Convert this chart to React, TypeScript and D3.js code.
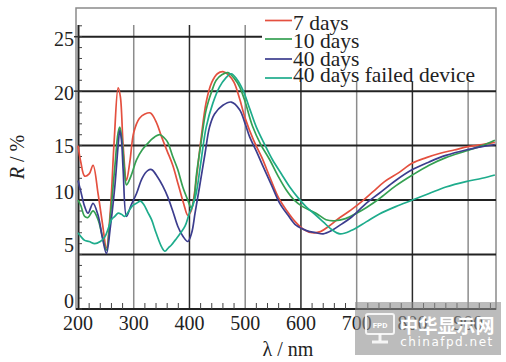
import React from 'react';
import * as d3 from 'd3';

// wavelength (nm) / reflectance (%)
const wl7 = [200, 205, 212, 220, 227, 236, 244, 251, 258, 265, 272, 276, 281, 287, 293, 300, 310, 320, 330, 340, 350, 360, 370, 380, 390, 397, 403, 410, 420, 430, 440, 450, 460, 470, 480, 490, 500, 515, 530, 545, 560, 575, 590, 605, 620, 635, 650, 670, 690, 710, 730, 750, 775, 800, 825, 850, 875, 900, 925, 948];
const r7 = [15.0, 13.5, 12.2, 12.4, 13.2, 10.6, 7.8, 5.6, 9.0, 15.5, 20.3, 19.5, 15.0, 11.8, 13.5, 16.2, 17.5, 17.9, 18.0, 17.2, 15.8, 14.5, 13.2, 11.4, 9.6, 8.6, 9.0, 11.0, 15.3, 19.0, 20.8, 21.6, 21.8, 21.5, 20.8, 19.3, 17.5, 15.5, 13.9, 12.0, 10.2, 9.0, 8.0, 7.3, 7.0, 7.1, 7.6, 8.4, 9.1, 9.9, 10.8, 11.7, 12.5, 13.4, 13.9, 14.3, 14.6, 14.9, 15.1, 15.3];

const wl10 = [200, 205, 212, 218, 227, 236, 244, 251, 258, 266, 272, 275, 279, 283, 287, 295, 305, 315, 325, 335, 347, 355, 361, 370, 379, 388, 397, 403, 408, 412, 420, 430, 440, 448, 458, 469, 480, 490, 500, 513, 528, 544, 559, 574, 588, 603, 627, 645, 660, 680, 700, 717, 740, 770, 800, 830, 860, 896, 925, 948];
const r10 = [10.0, 9.5, 8.5, 8.4, 9.0, 8.2, 6.6, 5.4, 8.5, 13.0, 16.2, 16.7, 15.5, 13.0, 11.4, 12.2, 13.7, 14.6, 15.2, 15.7, 16.0, 15.7, 15.3, 14.0, 12.8, 11.2, 10.0, 9.3, 10.0, 12.1, 15.0, 18.3, 20.0, 21.0, 21.5, 21.7, 21.2, 20.4, 19.0, 16.8, 15.1, 13.7, 12.2, 10.9, 10.0, 9.4, 8.8, 8.2, 8.1, 8.3, 8.8, 9.3, 10.1, 11.3, 12.3, 13.2, 13.9, 14.5, 15.0, 15.5];

const wl40 = [200, 205, 212, 218, 227, 236, 244, 251, 258, 266, 272, 275, 278, 281, 287, 295, 305, 315, 325, 332, 343, 352, 361, 370, 379, 388, 397, 404, 410, 418, 428, 436, 445, 460, 475, 490, 500, 508, 520, 532, 547, 562, 577, 591, 610, 627, 640, 655, 670, 690, 717, 740, 770, 800, 830, 860, 896, 925, 948];
const r40 = [11.8, 10.8, 9.4, 8.8, 9.7, 8.6, 6.5, 5.1, 7.5, 11.2, 15.0, 16.4, 15.5, 12.8, 8.5, 9.5, 10.6, 12.0, 12.7, 12.8, 12.1, 11.3, 10.3, 9.0, 7.6, 6.7, 6.2, 7.0, 8.8, 11.2, 14.3, 16.7, 17.9, 18.7, 19.0, 18.3, 17.0, 15.8, 14.5, 13.1, 11.4, 9.7, 8.6, 7.7, 7.2, 7.0, 6.9, 7.2, 7.7, 8.4, 9.7, 10.6, 11.8, 12.8, 13.5, 14.1, 14.6, 14.9, 15.1];

const wlFail = [200, 206, 212, 220, 230, 240, 248, 255, 260, 266, 272, 278, 284, 290, 298, 305, 312, 318, 325, 332, 340, 350, 356, 362, 368, 374, 383, 392, 400, 406, 412, 420, 430, 442, 454, 465, 475, 485, 496, 508, 520, 535, 549, 565, 580, 595, 609, 625, 640, 655, 670, 690, 717, 740, 770, 800, 830, 860, 896, 925, 948];
const rFail = [7.0, 6.6, 6.3, 6.2, 6.0, 6.2, 6.6, 7.5, 8.2, 8.5, 8.8, 8.7, 8.5, 8.9, 9.5, 9.7, 9.9, 9.6, 8.9, 8.2, 7.0, 5.7, 5.3, 5.6, 5.9, 6.3, 6.9, 7.6, 8.8, 9.5, 10.6, 13.3, 16.7, 18.9, 20.4, 21.2, 21.6, 21.1, 20.1, 18.4, 16.7, 15.1, 13.7, 12.4, 11.2, 10.2, 9.4, 8.7, 8.0, 7.3, 6.9, 7.2, 8.0, 8.7, 9.4, 10.0, 10.6, 11.2, 11.7, 12.0, 12.3];

const seriesNames = ['7 days', '10 days', '40 days', '40 days failed device'];
const seriesWl = [wl7, wl10, wl40, wlFail];
const seriesR = [r7, r10, r40, rFail];
const colors = ['#e4503f', '#35a052', '#3c3d8e', '#1eac8c'];

const xTicks = [200, 300, 400, 500, 600, 700, 800, 900];
const yTicks = [0, 5, 10, 15, 20, 25];

const W = 506;
const H = 362;

export default function App() {
  const x = d3.scaleLinear().domain([200, 950]).range([78, 496]);
  const y = d3.scaleLinear().domain([0, 25]).range([309, 36.7]);

  const line = d3.line<[number, number]>()
    .x(d => x(d[0]))
    .y(d => y(d[1]))
    .curve(d3.curveCatmullRom.alpha(0.5));

  const legendBottom = 82;
  const legendLeft = 262;
  const serif = '"Liberation Serif", "DejaVu Serif", serif';
  // label baselines sit a little unevenly against their ticks in the scan
  const yLabelDy = [-1, -3, -1, 7, 9, 9];

  const minorX = d3.range(200, 950, 20).filter(v => v % 100 !== 0);
  const minorY = d3.range(0, 27, 1);

  return (
    <svg width={W} height={H} style={{ position: 'absolute', left: 0, top: 0, background: '#fff' }}>
      {/* frame */}
      <rect x={76} y={8} width={420} height={301} fill="none" stroke="#8a8a8a" strokeWidth={1.5} />

      {/* vertical grid */}
      {xTicks.slice(1).map((t, i) => (
        <line key={'vg' + t} x1={x(t)} x2={x(t)} y1={x(t) > legendLeft ? legendBottom : 25} y2={309}
          stroke={i % 2 === 0 ? '#8c8c8c' : '#2a2a2a'} strokeWidth={1.5} />
      ))}

      {/* horizontal grid */}
      {yTicks.slice(1).map(t => (
        <line key={'hg' + t} x1={78} x2={t === 25 ? legendLeft : 496} y1={y(t)} y2={y(t)}
          stroke="#222" strokeWidth={2} />
      ))}

      {/* axes */}
      <line x1={78.5} x2={78.5} y1={25} y2={309} stroke="#222" strokeWidth={2} />
      <line x1={76} x2={496} y1={309} y2={309} stroke="#222" strokeWidth={2} />
      {minorY.map(v => (
        <line key={'my' + v} x1={79} x2={82} y1={y(v)} y2={y(v)} stroke="#444" strokeWidth={1} />
      ))}
      {[20, 25].map(v => (
        <line key={'My' + v} x1={74} x2={80} y1={y(v)} y2={y(v)} stroke="#333" strokeWidth={1.5} />
      ))}
      {minorX.map(v => (
        <line key={'mx' + v} x1={x(v)} x2={x(v)} y1={309} y2={303} stroke="#444" strokeWidth={1} />
      ))}

      {/* curves */}
      {seriesWl.map((wl, i) => (
        <path key={'s' + i}
          d={line(wl.map((w, j) => [w, seriesR[i][j]] as [number, number])) || ''}
          fill="none" stroke={colors[i]} strokeWidth={1.7} strokeLinejoin="round" />
      ))}

      {/* tick labels */}
      {yTicks.map((t, i) => (
        <text key={'yl' + t} x={74} y={y(t) + yLabelDy[i]} textAnchor="end" fontFamily={serif} fontSize={20} fill="#222">{t}</text>
      ))}
      {xTicks.map(t => (
        <text key={'xl' + t} x={x(t)} y={330} textAnchor="middle" fontFamily={serif} fontSize={20} fill="#222">{t}</text>
      ))}

      {/* axis titles */}
      <text x={288} y={356} textAnchor="middle" fontFamily={serif} fontSize={20} fill="#222">λ / nm</text>
      <text transform="translate(24,157) rotate(-90)" textAnchor="middle" fontFamily={serif} fontSize={20} fill="#222">
        <tspan fontStyle="italic">R</tspan> / %
      </text>

      {/* legend */}
      {seriesNames.map((name, i) => {
        const ly = [20.5, 39, 59, 78][i];
        const by = [30, 48, 66, 82][i];
        return (
          <g key={'lg' + i}>
            <line x1={265} x2={292} y1={ly} y2={ly} stroke={colors[i]} strokeWidth={1.7} />
            <text x={293} y={by} fontFamily={serif} fontSize={21.5} fill="#222">{name}</text>
          </g>
        );
      })}

      {/* watermark */}
      <g>
        <rect x={355} y={302} width={146} height={53} fill="#8f8f8f" opacity={0.6} />
        <rect x={366} y={314} width={28} height={20} rx={2} fill="none" stroke="#fff" strokeWidth={2} opacity={0.85} />
        <line x1={380} x2={380} y1={334} y2={341} stroke="#fff" strokeWidth={3} opacity={0.85} />
        <line x1={372} x2={388} y1={342} y2={342} stroke="#fff" strokeWidth={3} opacity={0.85} />
        <text x={380} y={328} textAnchor="middle" fontFamily="Roboto, sans-serif" fontSize={8} fontWeight="bold" fill="#fff">FPD</text>
        <text x={447} y={333} textAnchor="middle" fontFamily='"Noto Sans CJK SC", sans-serif' fontWeight="bold" fontSize={19} fill="#fff">中华显示网</text>
        <text x={447} y={346} textAnchor="middle" fontFamily='"DejaVu Sans", sans-serif' fontSize={12} letterSpacing={1.5} fill="#fff">chinafpd.net</text>
      </g>
    </svg>
  );
}
